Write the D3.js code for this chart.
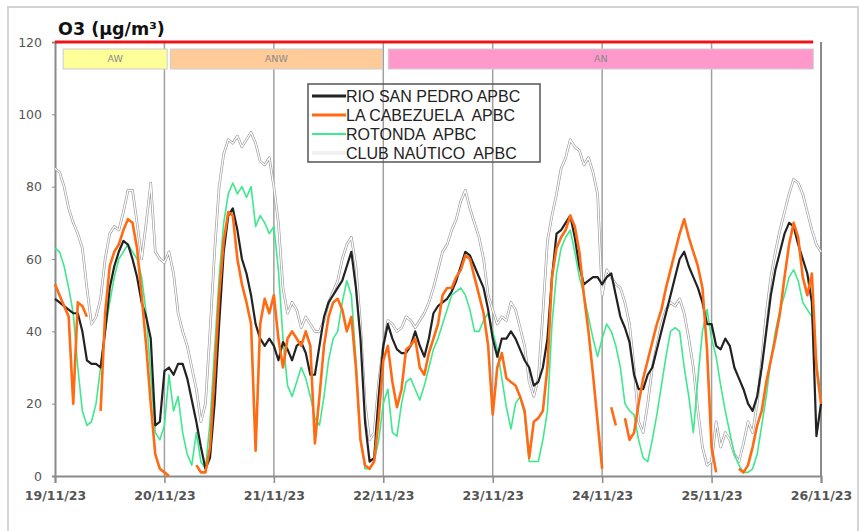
<!DOCTYPE html>
<html>
<head>
<meta charset="utf-8">
<style>
  body { margin: 0; background: #fff; }
  svg { display: block; }
  .x-label { font-family: 'DejaVu Sans', Verdana, sans-serif; font-size: 12.5px; font-weight: bold; fill: #555; }
  .y-label { font-family: 'DejaVu Sans', Verdana, sans-serif; font-size: 12.5px; fill: #555; }
  .legend-label { font-family: 'Liberation Sans', Arial, sans-serif; font-size: 16px; fill: #222; white-space: pre; }
  .band-label { font-family: 'DejaVu Sans', Verdana, sans-serif; font-size: 9.5px; fill: #888; }
</style>
</head>
<body>
<svg id="chart" width="859" height="531"></svg>
<script src="https://d3js.org/d3.v7.min.js"></script>
<script>
// hourly O3 readings from 19/11/23 00:00, null = missing
const rioSanPedro = [49,48,47,46,45,45,40,32,31,31,30,40,52,58,62,65,64,60,55,48,44,38,14,15,
  29,30,28,31,31,27,21,15,8,2,5,20,42,62,72,74,68,60,56,50,42,38,36,38,
  36,32,37,35,32,36,37,34,28,28,36,44,48,50,52,54,58,62,52,38,15,4,5,22,
  36,42,38,35,34,34,36,40,36,33,38,45,47,48,49,51,54,58,62,61,58,55,52,46,
  38,33,38,38,40,38,35,32,30,25,26,30,38,55,67,68,70,72,66,58,53,54,55,55,
  53,55,56,50,44,41,37,28,24,24,28,30,35,40,45,50,55,60,62,58,55,52,48,42,
  42,36,35,38,36,30,27,24,20,18,22,30,40,50,57,62,67,70,69,64,60,56,48,11,20];

const laCabezuela = [53,50,47,44,20,48,47,44,null,null,18,45,58,62,64,68,71,70,63,50,36,20,6,2,
  1,0,null,null,null,null,null,3,1,1,8,28,50,65,73,72,60,53,48,42,7,42,49,45,
  50,38,30,38,40,38,36,40,36,9,22,36,44,48,49,46,40,44,30,10,3,2,4,16,
  32,36,26,19,24,35,36,38,30,28,34,38,42,50,52,52,55,57,61,60,55,50,45,36,
  17,30,34,27,26,25,22,18,5,15,16,18,30,55,63,66,68,72,69,62,50,40,28,15,
  2,null,19,14,null,16,10,12,20,27,32,37,42,46,52,57,62,67,71,66,62,58,52,35,
  8,1,null,null,null,null,2,1,3,8,14,18,26,32,38,45,55,64,70,66,55,50,56,30,20];

const rotonda = [63,62,58,52,45,30,18,14,15,20,30,40,48,55,60,62,64,62,60,55,45,28,12,10,
  14,28,18,22,12,6,3,12,4,2,15,35,55,70,78,81,78,80,77,80,69,72,70,67,
  69,57,38,25,22,26,30,27,22,16,14,22,32,38,40,48,54,50,32,10,2,2,4,10,
  20,24,12,11,20,26,27,24,21,25,30,35,38,42,46,50,51,52,50,46,40,40,43,45,
  40,35,27,19,13,20,22,17,4,4,4,10,18,42,56,63,66,68,62,55,50,44,38,33,
  38,42,40,36,30,20,18,17,10,5,4,10,17,25,33,40,41,40,30,22,12,27,40,46,
  38,33,25,18,12,6,3,1,1,2,6,14,22,32,40,46,50,55,57,54,48,46,44,32,21];

const clubNautico = [85,84,80,74,70,67,63,52,42,44,49,60,67,69,68,73,79,79,70,60,70,81,62,60,
  59,62,56,45,40,36,30,24,15,20,40,62,80,89,93,92,94,91,93,95,92,87,86,88,
  80,70,52,45,48,46,41,44,42,40,40,43,48,51,54,60,64,66,58,42,20,10,12,26,
  36,43,42,40,41,44,43,41,43,45,48,52,57,62,64,68,71,76,79,74,70,66,60,50,
  46,42,44,43,48,46,41,36,26,22,27,45,65,72,78,85,88,93,91,90,86,88,84,78,
  50,57,55,53,52,48,42,30,15,12,20,30,36,42,46,48,47,49,45,38,30,18,8,3,
  4,15,8,12,10,6,4,9,15,12,20,32,45,55,62,68,73,78,82,81,78,73,68,64,62];

const seriesNames = ["RIO SAN PEDRO APBC", "LA CABEZUELA  APBC", "ROTONDA  APBC", "CLUB NAÚTICO  APBC"];
const seriesColors = ["#222222", "#ff6a13", "#3ee88c", "#ffffff"];

const dayTicks = ["19/11/23", "20/11/23", "21/11/23", "22/11/23", "23/11/23", "24/11/23", "25/11/23", "26/11/23"];
const yTicks = [0, 20, 40, 60, 80, 100, 120];
const limitValue = 120;

// wind sectors shown as bands across the top (start/end in hours)
const windNames = ["AW", "ANW", "AN"];
const windStart = [1.8, 25.3, 73.1];
const windEnd = [24.6, 71.8, 166.3];
const windColors = ["#ffff99", "#ffcc99", "#ff99cc"];

const svg = d3.select("#chart");
const margin = { top: 42, right: 38, bottom: 55, left: 55 };
const width = 859, height = 531;

const t0 = new Date(2023, 10, 19);
const hourDate = h => new Date(t0.getTime() + h * 3600 * 1000);

const x = d3.scaleTime()
  .domain([t0, hourDate(168)])
  .range([margin.left, width - margin.right]);

const y = d3.scaleLinear()
  .domain([0, 120])
  .range([height - margin.bottom, margin.top]);

// outer frame
svg.append("rect")
  .attr("x", 8).attr("y", 7)
  .attr("width", 850).attr("height", 540)
  .attr("fill", "none")
  .attr("stroke", "#d4d4d4")
  .attr("stroke-width", 2);

// title
svg.append("text")
  .attr("x", 58).attr("y", 35)
  .attr("font-family", "'DejaVu Sans', Verdana, sans-serif")
  .attr("font-size", "17.5px")
  .attr("font-weight", "bold")
  .attr("fill", "#111")
  .text("O3 (µg/m³)");

// day gridlines
const dayDates = dayTicks.map((d, i) => hourDate(i * 24));
svg.append("g")
  .selectAll("line")
  .data(dayDates.slice(1, -1))
  .join("line")
  .attr("x1", d => x(d)).attr("x2", d => x(d))
  .attr("y1", y(120)).attr("y2", y(0))
  .attr("stroke", "#a0a0a0")
  .attr("stroke-width", 1.5);

// x axis
const xAxis = svg.append("g")
  .attr("transform", `translate(0,${y(0)})`)
  .call(d3.axisBottom(x).tickValues(dayDates).tickFormat((d, i) => dayTicks[i]).tickSize(7).tickPadding(8));
xAxis.select(".domain").attr("stroke", "#8a8a8a").attr("stroke-width", 2);
xAxis.selectAll(".tick line").attr("stroke", "#8a8a8a").attr("stroke-width", 1.5);
xAxis.selectAll(".tick text").attr("class", "x-label").attr("font-size", null).attr("font-family", null).attr("fill", null);

// y axis
const yAxis = svg.append("g")
  .attr("transform", `translate(${margin.left},0)`)
  .call(d3.axisLeft(y).tickValues(yTicks).tickSize(3).tickPadding(10));
yAxis.select(".domain").attr("stroke", "#8a8a8a").attr("stroke-width", 2);
yAxis.selectAll(".tick line").attr("stroke", "#8a8a8a");
yAxis.selectAll(".tick text").attr("class", "y-label").attr("font-size", null).attr("font-family", null).attr("fill", null);

// right border of plot
svg.append("line")
  .attr("x1", x(hourDate(168))).attr("x2", x(hourDate(168)))
  .attr("y1", y(120)).attr("y2", y(0))
  .attr("stroke", "#8a8a8a").attr("stroke-width", 2);

// limit line
svg.append("line")
  .attr("x1", margin.left).attr("x2", x(hourDate(166.3)))
  .attr("y1", y(limitValue)).attr("y2", y(limitValue))
  .attr("stroke", "#e8151b").attr("stroke-width", 3);

// wind bands
const bands = svg.append("g");
windNames.forEach((name, i) => {
  const x0 = x(hourDate(windStart[i])), x1 = x(hourDate(windEnd[i]));
  bands.append("rect")
    .attr("x", x0).attr("y", 49)
    .attr("width", x1 - x0).attr("height", 20)
    .attr("fill", windColors[i])
    .attr("stroke", "#cccccc").attr("stroke-width", 1);
  bands.append("text")
    .attr("class", "band-label")
    .attr("x", (x0 + x1) / 2).attr("y", 62)
    .attr("text-anchor", "middle")
    .text(name);
});

const line = d3.line()
  .defined(d => d != null)
  .x((d, i) => x(hourDate(i)))
  .y(d => y(d));

const plot = svg.append("g");

// club nautico: white line with grey outline
plot.append("path").datum(clubNautico)
  .attr("d", line).attr("fill", "none")
  .attr("stroke", "#9a9a9a").attr("stroke-width", 2.6).attr("stroke-linejoin", "round");
plot.append("path").datum(clubNautico)
  .attr("d", line).attr("fill", "none")
  .attr("stroke", seriesColors[3]).attr("stroke-width", 1.3).attr("stroke-linejoin", "round");

plot.append("path").datum(rotonda)
  .attr("d", line).attr("fill", "none")
  .attr("stroke", seriesColors[2]).attr("stroke-width", 1.6).attr("stroke-linejoin", "round");

plot.append("path").datum(rioSanPedro)
  .attr("d", line).attr("fill", "none")
  .attr("stroke", seriesColors[0]).attr("stroke-width", 2.2).attr("stroke-linejoin", "round");

plot.append("path").datum(laCabezuela)
  .attr("d", line).attr("fill", "none")
  .attr("stroke", seriesColors[1]).attr("stroke-width", 2.6).attr("stroke-linejoin", "round");

// legend
const legend = svg.append("g");
legend.append("rect")
  .attr("x", 308).attr("y", 84)
  .attr("width", 232).attr("height", 78)
  .attr("fill", "none")
  .attr("stroke", "#555").attr("stroke-width", 1.5);

seriesNames.forEach((name, i) => {
  const ly = 96 + i * 19;
  if (i === 3) {
    legend.append("line")
      .attr("x1", 312).attr("x2", 346).attr("y1", ly).attr("y2", ly)
      .attr("stroke", "#c8c8c8").attr("stroke-width", 2.6);
  }
  legend.append("line")
    .attr("x1", 312).attr("x2", 346).attr("y1", ly).attr("y2", ly)
    .attr("stroke", seriesColors[i])
    .attr("stroke-width", [3, 3, 2, 1.3][i]);
  legend.append("text")
    .attr("class", "legend-label")
    .attr("x", 346).attr("y", ly + 5.5)
    .text(name);
});
</script>
</body>
</html>
